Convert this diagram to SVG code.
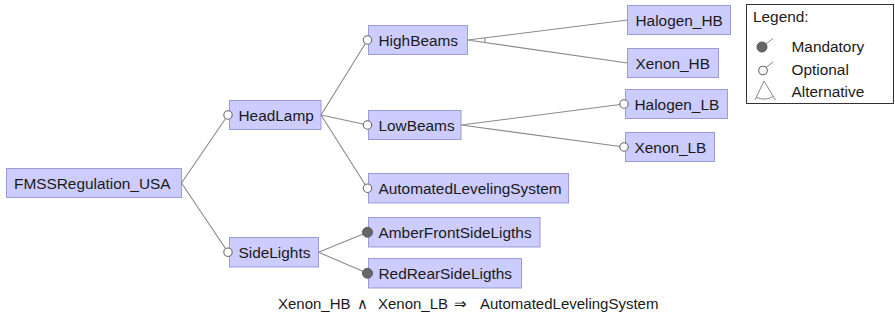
<svg xmlns="http://www.w3.org/2000/svg" width="895" height="325" viewBox="0 0 895 325">
  <style>
    .box{fill:#ccccff;stroke:#9b9bd8;stroke-width:1}
    .lbl{font-family:"Liberation Sans",Arial,sans-serif;font-size:15.4px;fill:#1a1a1a}
    .edge{stroke:#8a8a8a;stroke-width:1.1;fill:none}
    .opt{fill:#ffffff;stroke:#666666;stroke-width:1.1}
    .man{fill:#666666;stroke:#5a5a5a;stroke-width:1}
    .leg{fill:#ffffff;stroke:#333333;stroke-width:1}
    .icon{stroke:#888888;stroke-width:1;fill:none}
  </style>
  <rect width="895" height="325" fill="#ffffff"/>

  <!-- feature nodes -->
  <g id="FMSSRegulation_USA">
    <rect class="box" x="6.5" y="168.5" width="175" height="29"/>
    <text class="lbl" x="14" y="188.5">FMSSRegulation_USA</text>
  </g>
  <g id="HeadLamp">
    <rect class="box" x="229.5" y="100.5" width="91.5" height="29"/>
    <text class="lbl" x="238.5" y="120.5">HeadLamp</text>
  </g>
  <g id="HighBeams">
    <rect class="box" x="368.5" y="25.5" width="99" height="29"/>
    <text class="lbl" x="378.5" y="45.5">HighBeams</text>
  </g>
  <g id="LowBeams">
    <rect class="box" x="368.5" y="110.5" width="92.5" height="29"/>
    <text class="lbl" x="378.5" y="130.5">LowBeams</text>
  </g>
  <g id="AutomatedLevelingSystem">
    <rect class="box" x="368.5" y="173.5" width="200" height="29.5"/>
    <text class="lbl" x="378.5" y="193.8">AutomatedLevelingSystem</text>
  </g>
  <g id="SideLights">
    <rect class="box" x="229.5" y="237.5" width="89" height="29.5"/>
    <text class="lbl" x="238.5" y="257.7">SideLights</text>
  </g>
  <g id="AmberFrontSideLigths">
    <rect class="box" x="368.5" y="217.5" width="171.5" height="29.5"/>
    <text class="lbl" x="378.5" y="237.7">AmberFrontSideLigths</text>
  </g>
  <g id="RedRearSideLigths">
    <rect class="box" x="368.5" y="258.5" width="153" height="29.5"/>
    <text class="lbl" x="378.5" y="278.7">RedRearSideLigths</text>
  </g>
  <g id="Halogen_HB">
    <rect class="box" x="627.5" y="5.5" width="103" height="29"/>
    <text class="lbl" x="635.5" y="25.5">Halogen_HB</text>
  </g>
  <g id="Xenon_HB">
    <rect class="box" x="627.5" y="48.5" width="91" height="29"/>
    <text class="lbl" x="635.5" y="68.5">Xenon_HB</text>
  </g>
  <g id="Halogen_LB">
    <rect class="box" x="625.5" y="89.5" width="102" height="29"/>
    <text class="lbl" x="634.5" y="109.5">Halogen_LB</text>
  </g>
  <g id="Xenon_LB">
    <rect class="box" x="625.5" y="132.5" width="89" height="29"/>
    <text class="lbl" x="634.5" y="152.5">Xenon_LB</text>
  </g>

  <!-- connectors: tree edges with optional / mandatory / alternative ends -->
  <g id="connectors">
    <path class="edge" d="M181.5 183 L228 115 M181.5 183 L228 252.25"/>
    <path class="edge" d="M321 115 L367.5 40 M321 115 L367.5 125 M321 115 L367.5 188.25"/>
    <path class="edge" d="M467.5 40 L627.5 20 M467.5 40 L627.5 63"/>
    <path class="edge" d="M484.86 37.83 A17.5 17.5 0 0 1 484.82 42.49"/>
    <path class="edge" d="M461 125 L624 104 M461 125 L624 147"/>
    <path class="edge" d="M318.5 252.25 L367.5 232.25 M318.5 252.25 L367.5 273.25"/>
    <circle class="opt" cx="228" cy="115" r="4.2"/>
    <circle class="opt" cx="228" cy="252.25" r="4.2"/>
    <circle class="opt" cx="367.5" cy="40" r="4.2"/>
    <circle class="opt" cx="367.5" cy="125" r="4.2"/>
    <circle class="opt" cx="367.5" cy="188.25" r="4.2"/>
    <circle class="opt" cx="624" cy="104" r="4.2"/>
    <circle class="opt" cx="624" cy="147" r="4.2"/>
    <circle class="man" cx="367.5" cy="232.25" r="5"/>
    <circle class="man" cx="367.5" cy="273.25" r="5"/>
  </g>

  <!-- legend -->
  <g id="legend">
    <rect class="leg" x="746.5" y="4.5" width="147" height="99"/>
    <text class="lbl" x="753" y="21.5">Legend:</text>
    <path class="icon" d="M762 47 L773 38.5"/>
    <circle class="man" cx="762" cy="47" r="5"/>
    <text class="lbl" x="791.5" y="52">Mandatory</text>
    <path class="icon" d="M766 67.5 L773 62"/>
    <circle class="opt" cx="763" cy="70.5" r="4.3"/>
    <text class="lbl" x="791.5" y="75">Optional</text>
    <path class="icon" d="M755 100 L764 81 L775.5 100 M756.3 97.3 A18 18 0 0 0 773 96.6"/>
    <text class="lbl" x="791.5" y="96.5">Alternative</text>
  </g>

  <!-- cross-tree constraint -->
  <g id="constraint">
    <text class="lbl" style="font-size:15px" y="309">
      <tspan x="278">Xenon_HB</tspan>
      <tspan x="365" text-anchor="middle">∧</tspan>
      <tspan x="378">Xenon_LB</tspan>
      <tspan x="463" text-anchor="middle">⇒</tspan>
      <tspan x="480">AutomatedLevelingSystem</tspan>
    </text>
  </g>
</svg>
